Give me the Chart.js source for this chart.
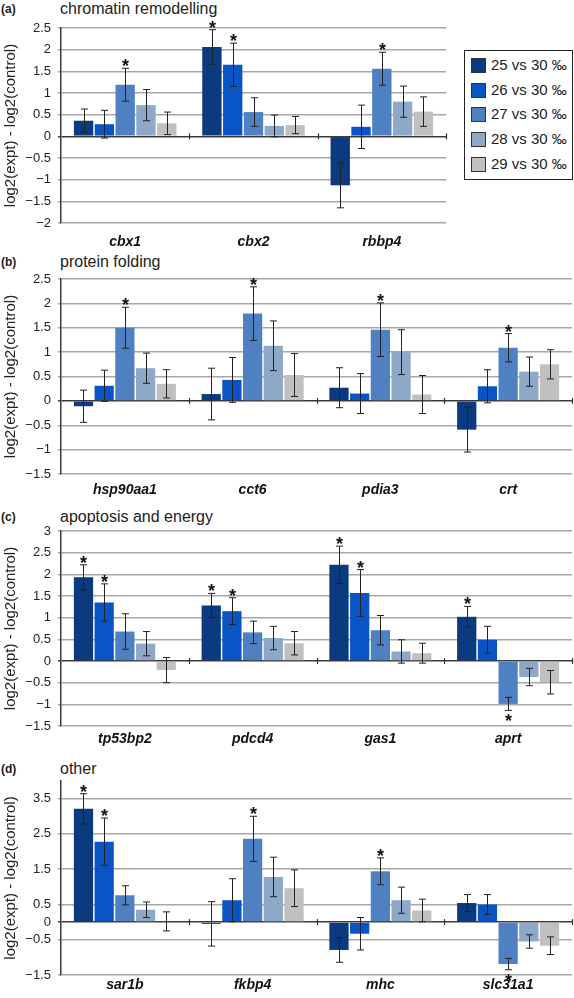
<!DOCTYPE html>
<html>
<head>
<meta charset="utf-8">
<script src="https://cdn.jsdelivr.net/npm/chart.js@4.4.1/dist/chart.umd.min.js"></script>
<style>
  body { margin: 0; background: #fff; font-family: 'Liberation Sans', Arial, sans-serif; color: #222; }
  #wrap { position: relative; width: 574px; height: 998px; overflow: hidden; }
  .panel { position: absolute; left: 0; width: 574px; }
  .tag { position: absolute; left: 1px; font-size: 12px; font-weight: bold; }
  .ttl { position: absolute; left: 60px; font-size: 16px; }
  #legend { position: absolute; left: 464px; top: 50px; width: 107px; height: 128px; border: 1px solid #222; background: #fff; }
  .li { position: absolute; left: 6px; height: 16px; font-size: 15px; line-height: 16px; white-space: nowrap; }
  .sw { display: inline-block; width: 13px; height: 13px; border: 1px solid #333; vertical-align: top; margin-right: 5px; margin-top: 1px; }
</style>
</head>
<body>
<div id="wrap">
  <div class="tag" style="top:2px">(a)</div><div class="ttl" style="top:0px">chromatin remodelling</div>
  <div class="tag" style="top:255px">(b)</div><div class="ttl" style="top:253px">protein folding</div>
  <div class="tag" style="top:510px">(c)</div><div class="ttl" style="top:508px">apoptosis and energy</div>
  <div class="tag" style="top:762px">(d)</div><div class="ttl" style="top:760px">other</div>
  <div class="panel" style="top:0px;height:250px"><canvas id="chartA" width="574" height="250"></canvas></div>
  <div class="panel" style="top:250px;height:251px"><canvas id="chartB" width="574" height="251"></canvas></div>
  <div class="panel" style="top:500px;height:253px"><canvas id="chartC" width="574" height="253"></canvas></div>
  <div class="panel" style="top:750px;height:248px"><canvas id="chartD" width="574" height="248"></canvas></div>
  <div id="legend"></div>
</div>
<script>
// series (salinity comparisons)
const seriesLabels = ['25 vs 30 ‰', '26 vs 30 ‰', '27 vs 30 ‰', '28 vs 30 ‰', '29 vs 30 ‰'];
const seriesColors = ['#0b3a7e', '#0a55c5', '#4f81c2', '#8ea8c8', '#c0c0c0'];

// (a) chromatin remodelling
const aGenes = ['cbx1', 'cbx2', 'rbbp4'];
const aVals = [
    [0.36, 2.06, -1.13],
    [0.28, 1.65, 0.22],
    [1.19, 0.56, 1.56],
    [0.72, 0.24, 0.80],
    [0.30, 0.26, 0.57]
];
const aErr = [
    [0.27, 0.40, 0.52],
    [0.32, 0.50, 0.50],
    [0.38, 0.33, 0.38],
    [0.36, 0.25, 0.36],
    [0.26, 0.20, 0.34]
];
const aSig = [[0, 1, 0], [0, 1, 0], [1, 0, 1], [0, 0, 0], [0, 0, 0]];
const aTicks = [2.5, 2, 1.5, 1, 0.5, 0, -0.5, -1, -1.5, -2];

// (b) protein folding
const bGenes = ['hsp90aa1', 'cct6', 'pdia3', 'crt'];
const bVals = [
    [-0.11, 0.14, 0.27, -0.59],
    [0.31, 0.43, 0.15, 0.30],
    [1.50, 1.79, 1.46, 1.09],
    [0.67, 1.13, 1.00, 0.60],
    [0.35, 0.53, 0.13, 0.75]
];
const bErr = [
    [0.33, 0.53, 0.41, 0.46],
    [0.32, 0.46, 0.41, 0.34],
    [0.42, 0.55, 0.55, 0.29],
    [0.31, 0.51, 0.46, 0.30],
    [0.29, 0.44, 0.39, 0.30]
];
const bSig = [[0, 0, 0, 0], [0, 0, 0, 0], [1, 1, 1, 1], [0, 0, 0, 0], [0, 0, 0, 0]];
const bTicks = [2.5, 2, 1.5, 1, 0.5, 0, -0.5, -1, -1.5];

// (c) apoptosis and energy
const cGenes = ['tp53bp2', 'pdcd4', 'gas1', 'aprt'];
const cVals = [
    [1.93, 1.28, 2.22, 1.02],
    [1.35, 1.15, 1.57, 0.49],
    [0.68, 0.66, 0.71, -0.99],
    [0.40, 0.53, 0.22, -0.37],
    [-0.21, 0.41, 0.18, -0.49]
];
const cErr = [
    [0.29, 0.28, 0.43, 0.24],
    [0.43, 0.31, 0.54, 0.31],
    [0.41, 0.26, 0.34, 0.15],
    [0.28, 0.27, 0.27, 0.20],
    [0.29, 0.27, 0.23, 0.27]
];
const cSig = [[1, 1, 1, 1], [1, 1, 1, 0], [0, 0, 0, 1], [0, 0, 0, 0], [0, 0, 0, 0]];
const cTicks = [3, 2.5, 2, 1.5, 1, 0.5, 0, -0.5, -1, -1.5];

// (d) other
const dGenes = ['sar1b', 'fkbp4', 'mhc', 'slc31a1'];
const dVals = [
    [3.21, -0.05, -0.79, 0.54],
    [2.28, 0.62, -0.33, 0.50],
    [0.76, 2.36, 1.44, -1.19],
    [0.35, 1.28, 0.62, -0.55],
    [0.02, 0.96, 0.33, -0.67]
];
const dErr = [
    [0.43, 0.63, 0.35, 0.24],
    [0.67, 0.61, 0.46, 0.28],
    [0.27, 0.64, 0.38, 0.16],
    [0.22, 0.56, 0.37, 0.19],
    [0.27, 0.52, 0.32, 0.25]
];
const dSig = [[1, 0, 0, 0], [1, 0, 0, 0], [0, 1, 1, 1], [0, 0, 0, 0], [0, 0, 0, 0]];
const dTicks = [3.5, 2.5, 1.5, 0.5, 0, -0.5, -1.5];

Chart.defaults.font.family = "'Liberation Sans', Arial, sans-serif";
Chart.defaults.color = '#222';

// error bars, significance stars and category ticks on the zero line
const errorBarPlugin = {
    id: 'errorBars',
    afterDatasetsDraw(chart) {
        const ctx = chart.ctx;
        const y = chart.scales.y;
        const x = chart.scales.x;
        const y0 = y.getPixelForValue(0);
        const step = x.getPixelForValue(1) - x.getPixelForValue(0);
        ctx.save();
        // little ticks at category boundaries
        ctx.strokeStyle = '#333';
        ctx.lineWidth = 1.2;
        const n = chart.data.labels.length;
        for (let i = 0; i < n; i++) {
            const px = Math.round(x.getPixelForValue(i) + step / 2) + 0.5;
            ctx.beginPath();
            ctx.moveTo(px, y0 - 3);
            ctx.lineTo(px, y0 + 3);
            ctx.stroke();
        }
        chart.data.datasets.forEach((ds, di) => {
            const meta = chart.getDatasetMeta(di);
            meta.data.forEach((bar, i) => {
                const v = ds.data[i];
                const e = ds.err[i];
                const top = y.getPixelForValue(v + e);
                const bot = y.getPixelForValue(v - e);
                const cx = Math.round(bar.x) + 0.5;
                ctx.strokeStyle = '#222';
                ctx.lineWidth = 1;
                ctx.beginPath();
                ctx.moveTo(cx, top); ctx.lineTo(cx, bot);
                ctx.moveTo(cx - 3.5, top); ctx.lineTo(cx + 3.5, top);
                ctx.moveTo(cx - 3.5, bot); ctx.lineTo(cx + 3.5, bot);
                ctx.stroke();
                if (ds.sig[i]) {
                    ctx.fillStyle = '#111';
                    ctx.font = "bold 18px 'Liberation Sans', Arial";
                    ctx.textAlign = 'center';
                    ctx.textBaseline = 'alphabetic';
                    if (v >= 0) {
                        ctx.fillText('*', cx, top + 4);
                    } else {
                        ctx.fillText('*', cx, bot + 17);
                    }
                }
            });
        });
        ctx.restore();
    }
};

function makePanel(id, genes, vals, errs, sigs, ticks, yMin, yMax, padTop, padRight, xHeight, labelPad) {
    const datasets = vals.map((v, s) => ({
        label: seriesLabels[s],
        data: v,
        err: errs[s],
        sig: sigs[s],
        backgroundColor: seriesColors[s],
        borderWidth: 0,
        categoryPercentage: 0.81,
        barPercentage: 0.93
    }));
    return new Chart(document.getElementById(id), {
        type: 'bar',
        data: { labels: genes, datasets },
        options: {
            responsive: false,
            animation: false,
            layout: { padding: { top: padTop, right: padRight, left: 0, bottom: 0 } },
            plugins: { legend: { display: false }, tooltip: { enabled: false } },
            scales: {
                x: {
                    grid: { display: false },
                    border: { display: false },
                    ticks: { font: { size: 14, weight: 'bold', style: 'italic' }, color: '#111', padding: labelPad },
                    afterFit(s) { s.height = xHeight; }
                },
                y: {
                    min: yMin,
                    max: yMax,
                    afterBuildTicks(s) { s.ticks = ticks.map(v => ({ value: v })); },
                    grid: {
                        color: c => (c.tick && c.tick.value === 0) ? '#3a3a3a' : '#a8a8a8',
                        lineWidth: 1.5,
                        tickLength: 3
                    },
                    border: { display: true, color: '#3a3a3a', width: 1.5 },
                    ticks: {
                        font: { size: 13 },
                        color: '#222',
                        padding: 7,
                        callback: v => String(v).replace('-', '\u2212')
                    },
                    title: { display: true, text: 'log2(expt) - log2(control)', font: { size: 15 }, color: '#222', padding: { top: 2, bottom: 0 } },
                    afterFit(s) { s.width = 61; }
                }
            }
        },
        plugins: [errorBarPlugin]
    });
}

makePanel('chartA', aGenes, aVals, aErr, aSig, aTicks, -2, 2.5, 28, 128, 27, 3);
makePanel('chartB', bGenes, bVals, bErr, bSig, bTicks, -1.5, 2.5, 29, 2, 27, 0);
makePanel('chartC', cGenes, cVals, cErr, cSig, cTicks, -1.5, 3, 31, 2, 27, -3);
makePanel('chartD', dGenes, dVals, dErr, dSig, dTicks, -1.5, 4, 31, 2, 23, -6);

// legend box
const legend = document.getElementById('legend');
seriesLabels.forEach((lab, i) => {
    const row = document.createElement('div');
    row.className = 'li';
    row.style.top = (6 + i * 24.7) + 'px';
    row.innerHTML = '<span class="sw" style="background:' + seriesColors[i] + '"></span>' + lab;
    legend.appendChild(row);
});
</script>
</body>
</html>
